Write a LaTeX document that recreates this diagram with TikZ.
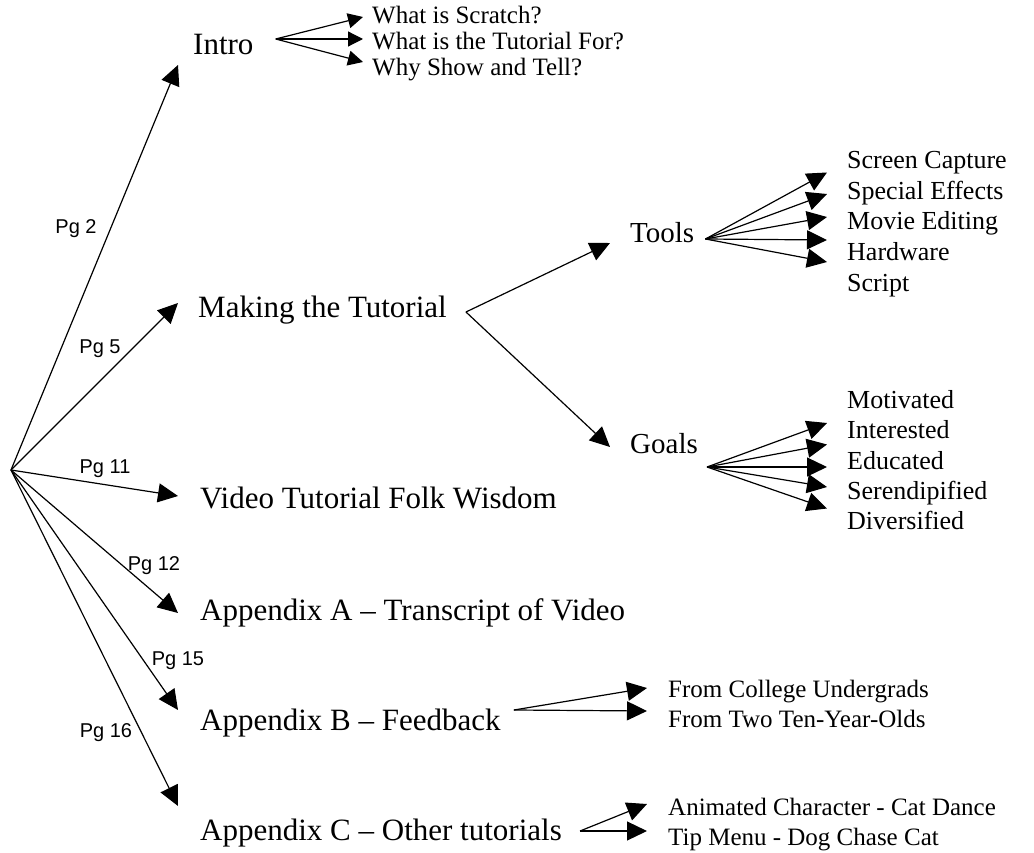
\documentclass[tikz,border=0pt]{standalone}
\usepackage{fontspec}
\setmainfont{Liberation Serif}
\setsansfont{Liberation Sans}
\usetikzlibrary{arrows.meta}

\begin{document}
\begin{tikzpicture}[x=1pt,y=-1pt,
  topic/.style={anchor=base west,font=\fontsize{31}{36}\selectfont},
  part/.style={anchor=base west,font=\fontsize{29}{34}\selectfont},
  item/.style={anchor=base west,font=\fontsize{26}{30}\selectfont},
  smallitem/.style={anchor=base west,font=\fontsize{25}{29}\selectfont},
  page/.style={font=\sffamily\fontsize{20}{24}\selectfont},
  arr/.style={line width=1.2pt,-{Triangle[length=20pt,width=19pt]}},
  arrsmall/.style={line width=1.2pt,-{Triangle[length=15pt,width=15pt]}}]
\tikzstyle{every node}+=[inner sep=0pt]
\useasboundingbox (0,0) rectangle (1034,853);
\coordinate (root) at (11,470);
\node[topic] (intro) at (193,55) {Intro};
\node[topic] (making) at (198,317) {Making the Tutorial};
\node[topic] (video) at (200,508) {Video Tutorial Folk Wisdom};
\node[topic] (appa) at (200,620) {Appendix A – Transcript of Video};
\node[topic] (appb) at (200,730) {Appendix B – Feedback};
\node[topic] (appc) at (200,840) {Appendix C – Other tutorials};
\node[part] (tools) at (630,243) {Tools};
\node[part] (goals) at (630,453) {Goals};
\node[smallitem] (scratch) at (372,24) {What is Scratch?};
\node[smallitem] (purpose) at (372,50) {What is the Tutorial For?};
\node[smallitem] (showtell) at (372,76) {Why Show and Tell?};
\node[item] (capture) at (847,169) {Screen Capture};
\node[item] (effects) at (847,199.5) {Special Effects};
\node[item] (editing) at (847,230) {Movie Editing};
\node[item] (hardware) at (847,260.5) {Hardware};
\node[item] (script) at (847,291) {Script};
\node[item] (motivated) at (847,408) {Motivated};
\node[item] (interested) at (847,438.5) {Interested};
\node[item] (educated) at (847,469) {Educated};
\node[item] (serendip) at (847,499) {Serendipified};
\node[item] (diversified) at (847,529.5) {Diversified};
\node[smallitem] (undergrads) at (668,697) {From College Undergrads};
\node[smallitem] (tenyear) at (668,727) {From Two Ten-Year-Olds};
\node[smallitem] (catdance) at (668,815) {Animated Character - Cat Dance};
\node[smallitem] (dogchase) at (668,845) {Tip Menu - Dog Chase Cat};
% page labels
\node[page] (pg2) at (76,229) {Pg 2};
\node[page] (pg5) at (100,349) {Pg 5};
\node[page] (pg11) at (105,469) {Pg 11};
\node[page] (pg12) at (154,566) {Pg 12};
\node[page] (pg15) at (178,661) {Pg 15};
\node[page] (pg16) at (106,733) {Pg 16};
% main branches
\draw[arr] (root) -- ([xshift=-15pt,yshift=-10pt]intro.base west);
\draw[arr] (root) -- ([xshift=-20pt,yshift=14pt]making.base west);
\draw[arr] (root) -- ([xshift=-22pt,yshift=12pt]video.base west);
\draw[arr] (root) -- ([xshift=-22pt,yshift=7pt]appa.base west);
\draw[arr] (root) -- ([xshift=-22pt,yshift=20pt]appb.base west);
\draw[arr] (root) -- ([xshift=-22pt,yshift=34pt]appc.base west);
% intro
\draw[arrsmall] ([xshift=22pt,yshift=16pt]intro.base east) -- ([xshift=-9pt,yshift=7pt]scratch.base west);
\draw[arrsmall] ([xshift=22pt,yshift=16pt]intro.base east) -- ([xshift=-9pt,yshift=11pt]purpose.base west);
\draw[arrsmall] ([xshift=22pt,yshift=16pt]intro.base east) -- ([xshift=-9pt,yshift=14pt]showtell.base west);
% making the tutorial
\draw[arr] ([xshift=19pt,yshift=5pt]making.base east) -- ([xshift=-20pt]tools.base west);
\draw[arr] ([xshift=19pt,yshift=5pt]making.base east) -- ([xshift=-20pt,yshift=6pt]goals.base west);
\draw[arr] ([xshift=11pt,yshift=4pt]tools.base east) -- ([xshift=-20pt,yshift=-3.5pt]capture.base west);
\draw[arr] ([xshift=11pt,yshift=4pt]tools.base east) -- ([xshift=-20pt,yshift=5.5pt]effects.base west);
\draw[arr] ([xshift=11pt,yshift=4pt]tools.base east) -- ([xshift=-20pt,yshift=13pt]editing.base west);
\draw[arr] ([xshift=11pt,yshift=4pt]tools.base east) -- ([xshift=-20pt,yshift=20.5pt]hardware.base west);
\draw[arr] ([xshift=11pt,yshift=4pt]tools.base east) -- ([xshift=-20pt,yshift=29pt]script.base west);
\draw[arr] ([xshift=9pt,yshift=-14pt]goals.base east) -- ([xshift=-20pt,yshift=-15pt]motivated.base west);
\draw[arr] ([xshift=9pt,yshift=-14pt]goals.base east) -- ([xshift=-20pt,yshift=-6pt]interested.base west);
\draw[arr] ([xshift=9pt,yshift=-14pt]goals.base east) -- ([xshift=-20pt,yshift=2pt]educated.base west);
\draw[arr] ([xshift=9pt,yshift=-14pt]goals.base east) -- ([xshift=-20pt,yshift=12pt]serendip.base west);
\draw[arr] ([xshift=9pt,yshift=-14pt]goals.base east) -- ([xshift=-20pt,yshift=21pt]diversified.base west);
% appendices
\draw[arr] ([xshift=13pt,yshift=20pt]appb.base east) -- ([xshift=-21pt,yshift=9pt]undergrads.base west);
\draw[arr] ([xshift=13pt,yshift=20pt]appb.base east) -- ([xshift=-21pt,yshift=16pt]tenyear.base west);
\draw[arr] ([xshift=18pt,yshift=9pt]appc.base east) -- ([xshift=-21pt,yshift=11pt]catdance.base west);
\draw[arr] ([xshift=18pt,yshift=9pt]appc.base east) -- ([xshift=-21pt,yshift=14pt]dogchase.base west);
\end{tikzpicture}
\end{document}
